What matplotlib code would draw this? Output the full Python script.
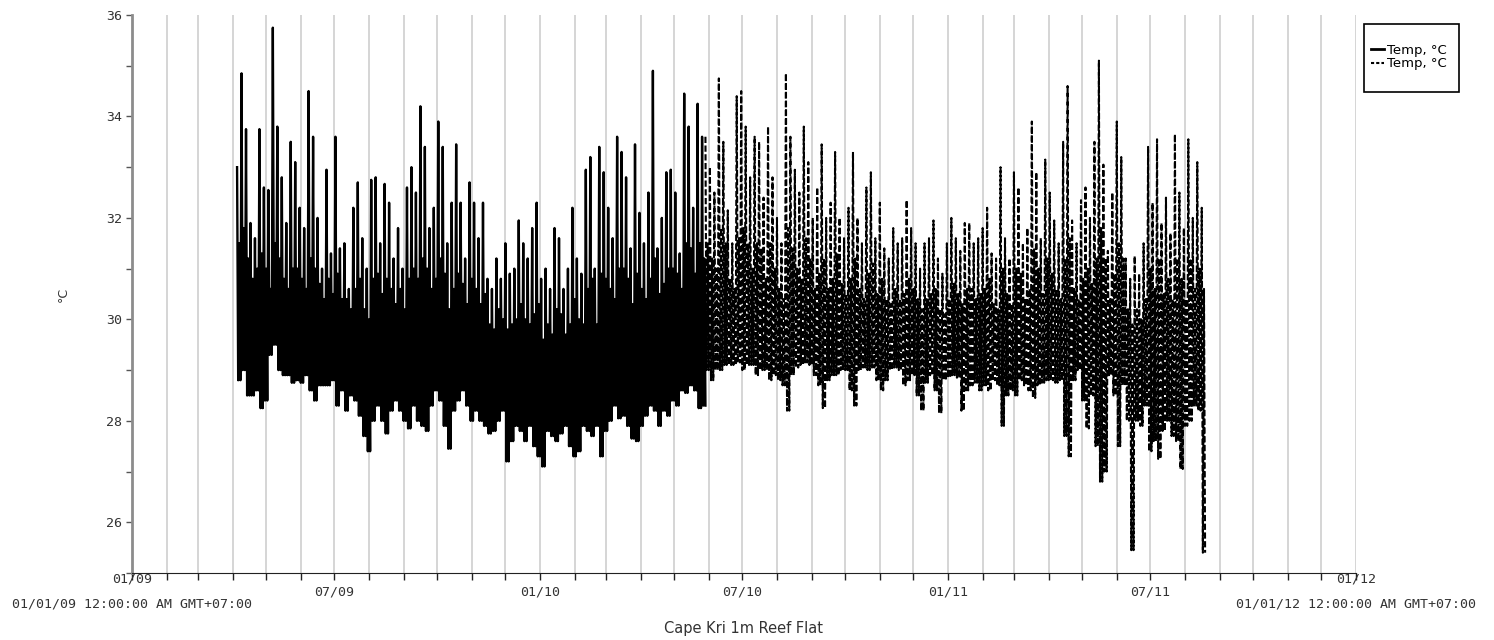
import numpy as np
import pandas as pd
import matplotlib
matplotlib.use('Agg')
import matplotlib.pyplot as plt
import matplotlib.dates as mdates
from matplotlib.lines import Line2D
from matplotlib.patches import Rectangle


# Data #
# one block every 4 days: spike high, low, and top of the dense daily band (deg C)

solid_start = '2009-04-05'
solid_hi = [33.0, 34.85, 33.75, 31.9, 31.6, 33.75, 32.6, 32.55, 35.75, 33.8,
            32.8, 31.9, 33.5, 33.1, 32.2, 31.8, 34.5, 33.6, 32.0, 31.0,
            32.95, 31.3, 33.6, 31.4, 31.5, 30.6, 32.2, 32.7, 31.6, 31.0,
            32.75, 32.8, 31.5, 32.67, 32.3, 31.2, 31.8, 31.0, 32.6, 33.0,
            32.5, 34.2, 33.4, 31.8, 32.2, 33.9, 33.4, 31.5, 32.3, 33.45,
            32.3, 31.2, 32.7, 32.3, 31.6, 32.3, 30.8, 30.6, 31.2, 30.8,
            31.5, 30.9, 31.0, 31.95, 31.5, 31.2, 31.8, 32.3, 30.8, 31.0,
            30.6, 31.8, 31.6, 30.6, 31.0, 32.2, 31.2, 30.9, 32.95, 33.2,
            31.0, 33.4, 32.9, 32.2, 31.6, 33.6, 33.3, 32.8, 31.4, 33.45,
            32.1, 31.5, 32.5, 34.9, 31.4, 32.0, 32.9, 32.95, 32.5, 31.3,
            34.45, 33.8, 32.2, 34.25, 33.6]
solid_lo = [28.8, 29.0, 28.5, 28.5, 28.6, 28.25, 28.4, 29.3, 29.5, 29.0,
            28.9, 28.9, 28.75, 28.8, 28.75, 28.9, 28.6, 28.4, 28.7, 28.7,
            28.7, 28.8, 28.3, 28.6, 28.2, 28.5, 28.4, 28.1, 27.7, 27.4,
            28.0, 28.3, 28.0, 27.75, 28.2, 28.4, 28.2, 28.0, 27.85, 28.3,
            28.0, 27.9, 27.8, 28.3, 28.6, 28.4, 27.9, 27.45, 28.2, 28.4,
            28.6, 28.3, 28.0, 28.2, 28.0, 27.9, 27.75, 27.8, 28.0, 28.2,
            27.2, 27.6, 27.9, 27.8, 27.6, 27.9, 27.5, 27.3, 27.1, 27.8,
            27.7, 27.6, 27.75, 27.9, 27.5, 27.3, 27.4, 27.9, 27.8, 27.7,
            27.9, 27.3, 27.8, 28.0, 28.3, 28.05, 28.1, 27.9, 27.65, 27.6,
            27.9, 28.1, 28.3, 28.2, 27.9, 28.2, 28.1, 28.4, 28.3, 28.6,
            28.55, 28.7, 28.6, 28.25, 28.3]
solid_core = [31.5, 31.8, 31.2, 30.8, 31.0, 31.3, 31.0, 30.6,
              31.5, 31.2, 30.8, 30.6, 31.0, 31.0, 30.8, 30.6,
              31.2, 31.0, 30.7, 30.4, 30.8, 30.5, 30.9, 30.4,
              30.4, 30.2, 30.6, 30.8, 30.2, 30.0, 30.8, 30.9,
              30.5, 30.8, 30.6, 30.3, 30.6, 30.2, 30.8, 31.0,
              30.8, 31.2, 31.0, 30.6, 30.8, 31.2, 30.9, 30.2,
              30.6, 30.9, 30.7, 30.3, 30.8, 30.6, 30.3, 30.5,
              29.9, 29.8, 30.2, 30.0, 29.8, 29.9, 30.0, 30.3,
              30.0, 29.9, 30.1, 30.3, 29.6, 29.9, 29.7, 30.2,
              30.1, 29.7, 29.9, 30.4, 30.0, 29.9, 30.6, 30.8,
              29.9, 30.9, 30.8, 30.6, 30.4, 31.0, 31.0, 30.8,
              30.3, 30.9, 30.6, 30.4, 30.8, 31.2, 30.5, 30.7,
              31.0, 31.0, 30.9, 30.6, 31.5, 31.4, 30.9, 31.5, 31.2]

dashed_start = '2010-05-29'
dashed_hi = [33.6, 33.0, 32.5, 34.75, 33.5, 32.15, 31.5, 34.4, 34.5, 33.8,
             32.8, 33.6, 33.5, 32.4, 33.8, 32.8, 32.0, 31.5, 34.85, 33.6,
             32.95, 32.5, 33.8, 33.1, 32.0, 32.6, 33.45, 32.0, 32.3, 33.3,
             32.0, 31.6, 32.2, 33.3, 32.0, 31.5, 32.6, 32.9, 31.6, 32.3,
             31.4, 31.2, 31.8, 31.5, 31.6, 32.35, 31.8, 31.5, 31.0, 31.5,
             31.6, 31.95, 31.2, 30.9, 31.5, 32.0, 31.6, 31.35, 31.9, 31.9,
             31.5, 31.6, 31.8, 32.2, 31.3, 31.2, 33.0, 31.6, 31.2, 32.9,
             32.6, 31.5, 31.8, 33.9, 32.9, 31.6, 33.15, 32.5, 31.95, 31.5,
             33.5, 34.6, 31.95, 31.5, 32.35, 32.6, 32.0, 33.5, 35.1, 33.05,
             31.35, 32.5, 33.9, 33.2, 31.2, 30.8, 31.25, 30.9, 31.5, 33.4,
             32.3, 33.55, 31.9, 32.4, 31.7, 33.65, 32.5, 31.8, 33.55, 32.0,
             33.1, 32.2]
dashed_lo = [29.0, 28.8, 29.0, 29.0, 29.1, 29.1, 29.1, 29.15, 29.0, 29.1,
             29.1, 28.9, 29.0, 29.0, 28.8, 28.9, 28.8, 28.7, 28.2, 28.9,
             29.05, 29.1, 29.15, 29.1, 28.9, 28.7, 28.25, 28.8, 28.9, 28.9,
             29.0, 29.0, 28.6, 28.3, 29.0, 29.05, 29.0, 29.05, 28.8, 28.6,
             28.8, 29.0, 29.05, 29.0, 28.7, 28.8, 28.9, 28.5, 28.2, 28.75,
             28.9, 28.6, 28.15, 28.8, 28.85, 28.9, 28.85, 28.2, 28.6, 28.7,
             28.75, 28.6, 28.7, 28.6, 28.8, 28.7, 27.9, 28.5, 28.6, 28.5,
             28.8, 28.7, 28.6, 28.45, 28.7, 28.75, 28.8, 28.8, 28.75, 28.8,
             27.7, 27.3, 28.8, 29.0, 28.4, 27.85, 28.5, 27.5, 26.8, 27.0,
             28.9, 28.5, 27.5, 28.7, 28.0, 25.45, 28.0, 27.9, 28.3, 27.4,
             27.6, 27.25, 27.8, 28.0, 27.7, 27.6, 27.05, 27.9, 28.0, 28.3,
             28.2, 25.4]
dashed_core = [31.5, 31.2, 31.0, 31.8, 31.5, 30.8, 30.6, 31.6, 31.8, 31.5,
               31.0, 31.5, 31.4, 30.8, 31.5, 31.0, 30.6, 30.4, 31.8, 31.4,
               31.0, 30.8, 31.6, 31.2, 30.6, 30.9, 31.2, 30.6, 30.8, 31.3,
               30.7, 30.5, 30.8, 31.2, 30.6, 30.4, 30.9, 31.1, 30.5, 30.8,
               30.4, 30.3, 30.6, 30.4, 30.5, 30.8, 30.6, 30.4, 30.2, 30.4,
               30.5, 30.6, 30.2, 30.1, 30.4, 30.7, 30.5, 30.3, 30.6, 30.6,
               30.4, 30.5, 30.6, 30.8, 30.3, 30.2, 31.0, 30.5, 30.3, 31.0,
               30.9, 30.4, 30.6, 31.4, 31.0, 30.5, 31.2, 30.9, 30.6, 30.4,
               31.2, 31.6, 30.6, 30.4, 30.8, 31.0, 30.7, 31.2, 31.8, 31.2,
               30.4, 30.9, 31.5, 31.2, 30.2, 29.9, 30.2, 30.0, 30.4, 31.0,
               30.6, 31.2, 30.5, 30.8, 30.4, 31.2, 30.8, 30.4, 31.2, 30.6,
               31.0, 30.6]

series_label = 'Temp, °C'
x_title = 'Cape Kri 1m Reef Flat'
y_title = '°C'
start_label = '01/01/09 12:00:00 AM GMT+07:00'
end_label = '01/01/12 12:00:00 AM GMT+07:00'
labelled_months = (1, 7)


def to_series(start, hi, lo, core):
    """Lay each 4-day block out as daily samples: high, low, band top, low."""
    temps = np.column_stack([hi, lo, core, lo]).ravel()
    times = pd.date_range(start, periods=len(temps), freq='1D')
    return times, temps


def month_fmt(x, pos):
    d = mdates.num2date(x)
    if d.month not in labelled_months:
        return ''
    if (d.year, d.month) in ((2009, 1), (2012, 1)):
        return ''
    return d.strftime('%m/%y')


fig = plt.figure(figsize=(14.94, 6.4), dpi=100)
ax = fig.add_axes([132 / 1494, 1 - 573 / 640, 1224 / 1494, 558 / 640])

t1, v1 = to_series(solid_start, solid_hi, solid_lo, solid_core)
t2, v2 = to_series(dashed_start, dashed_hi, dashed_lo, dashed_core)

ax.plot(t1, v1, color='black', lw=1.7, zorder=3)
ax.plot(t2, v2, color='black', lw=1.5, linestyle=(0, (3, 1.2)), zorder=3)

x0 = pd.Timestamp('2009-01-01')
x1 = pd.Timestamp('2012-01-01')
ax.set_xlim(x0, x1)
ax.set_ylim(25, 36)

## Axes styling
ax.xaxis.set_major_locator(mdates.MonthLocator())
ax.xaxis.set_major_formatter(plt.FuncFormatter(month_fmt))
ax.grid(axis='x', color='#d2d2d2', lw=1.3)
ax.set_axisbelow(True)

ax.set_yticks(np.arange(26, 37, 2))
ax.set_yticks(np.arange(25, 36, 1), minor=True)
ax.tick_params(axis='y', which='both', direction='out', length=4, width=1,
               color='#555555', labelsize=9.5, labelcolor='#333333', pad=3)
ax.tick_params(axis='x', direction='out', length=5, width=1, color='#222222',
               labelsize=9.5, labelcolor='#333333', pad=4)
for lab in ax.get_xticklabels() + ax.get_yticklabels():
    lab.set_family('DejaVu Sans Mono')

for side in ('top', 'right'):
    ax.spines[side].set_visible(False)
ax.spines['left'].set_color('#8c8c8c')
ax.spines['left'].set_linewidth(2)
ax.spines['bottom'].set_color('#222222')

# edge labels sit above/below the normal tick labels
for xd, txt in ((x0, start_label), (x1, end_label)):
    ax.annotate(xd.strftime('%m/%y'), xy=(mdates.date2num(xd), 0),
                xycoords=('data', 'axes fraction'), xytext=(0, -4.5),
                textcoords='offset points', ha='center', va='center',
                fontsize=9.5, family='DejaVu Sans Mono', color='#333333')
    ax.annotate(txt, xy=(mdates.date2num(xd), 0),
                xycoords=('data', 'axes fraction'), xytext=(0, -22),
                textcoords='offset points', ha='center', va='center',
                fontsize=9.5, family='DejaVu Sans Mono', color='#333333')

ax.set_xlabel(x_title, fontsize=10.5, color='#333333', labelpad=16)
ax.set_ylabel(y_title, fontsize=9, color='#333333', labelpad=26)

## Legend
handles = [Line2D([], [], color='black', lw=2),
           Line2D([], [], color='black', lw=1.5, linestyle=(0, (1.5, 1)))]
fig.legend(handles, [series_label, series_label], loc='center left',
           bbox_to_anchor=(1371 / 1494, 1 - 57 / 640), frameon=False,
           fontsize=9.5, handlelength=1.0, handletextpad=0.2,
           labelspacing=0.05, borderpad=0, borderaxespad=0)
fig.patches.append(Rectangle((1364 / 1494, 1 - 92 / 640), 95 / 1494, 68 / 640,
                             transform=fig.transFigure, fill=False,
                             edgecolor='black', lw=1.2))

fig.savefig('out.png', dpi=100)
